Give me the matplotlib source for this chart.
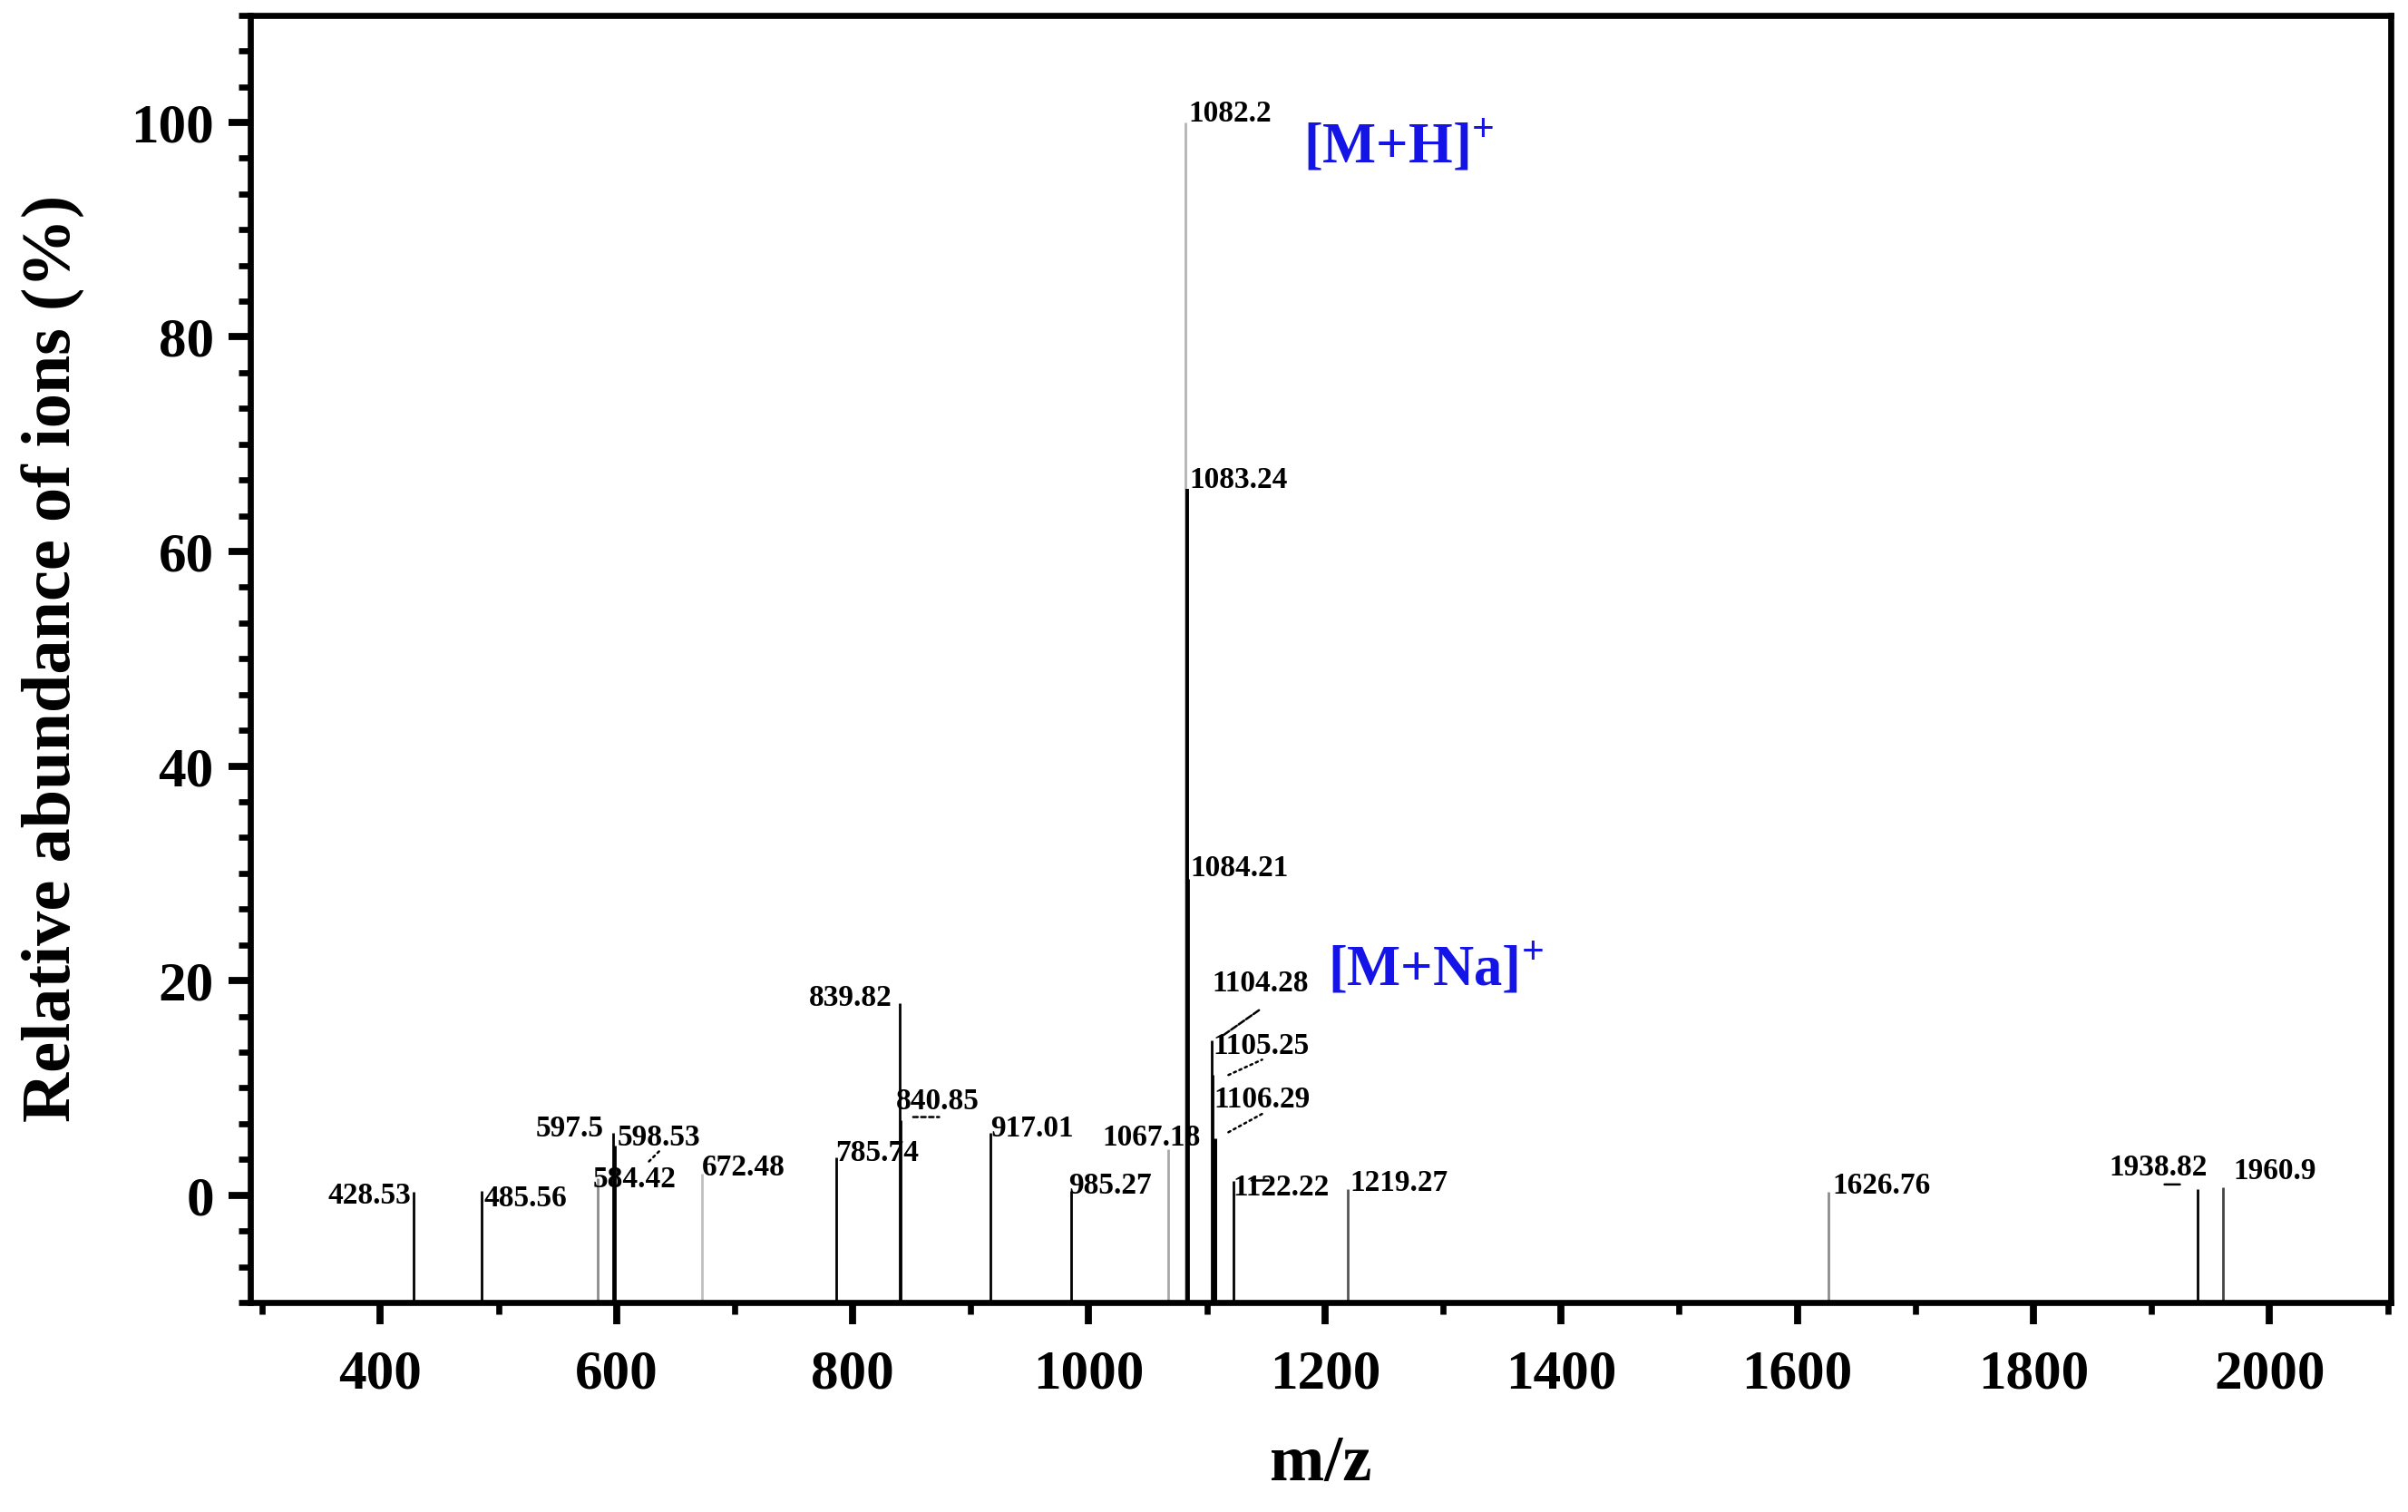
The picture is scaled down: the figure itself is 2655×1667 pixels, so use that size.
import numpy as np
import matplotlib
matplotlib.use("Agg")
import matplotlib.pyplot as plt
from matplotlib.ticker import MultipleLocator, AutoMinorLocator
from matplotlib.transforms import offset_copy

plt.rcParams['font.family'] = ['Liberation Serif', 'DejaVu Serif']
plt.rcParams['font.weight'] = 'bold'
plt.rcParams['mathtext.fontset'] = 'custom'
plt.rcParams['mathtext.rm'] = 'Liberation Serif:bold'
plt.rcParams['mathtext.bf'] = 'Liberation Serif:bold'

# peak list
mz = [428.53, 485.56, 584.42, 597.5, 598.53, 672.48, 785.74, 839.82, 840.85,
      917.01, 985.27, 1067.18, 1082.2, 1083.24, 1084.21, 1104.28, 1105.25,
      1106.29, 1122.22, 1219.27, 1626.76, 1938.82, 1960.9]
abundance = [0.3, 0.4, 1.6, 5.8, 4.6, 2.0, 3.5, 17.9, 7.0,
             5.8, 0.4, 4.3, 100.0, 65.8, 29.5, 14.4, 11.2,
             5.3, 1.3, 0.6, 0.3, 0.6, 0.75]
peak_labels = ["428.53", "485.56", "584.42", "597.5", "598.53", "672.48", "785.74",
               "839.82", "840.85", "917.01", "985.27", "1067.18", "1082.2", "1083.24",
               "1084.21", "1104.28", "1105.25", "1106.29", "1122.22", "1219.27",
               "1626.76", "1938.82", "1960.9"]
ion_labels = [r"[M+H]$^{+}$", r"[M+Na]$^{+}$"]
ion_mz = [1082.2, 1104.28]

x_ticks = [400, 600, 800, 1000, 1200, 1400, 1600, 1800, 2000]
y_ticks = [0, 20, 40, 60, 80, 100]
x_lim = (290, 2103)
y_lim = (-10, 110)

# drawing style per peak: colour, width
line_col = ['k', 'k', '#8c8c8c', 'k', 'k', '#c0c0c0', 'k', 'k', 'k',
            'k', 'k', '#a8a8a8', '#b4b4b4', 'k', 'k', 'k', 'k',
            'k', 'k', '#555555', '#8c8c8c', 'k', '#444444']
line_w = [1.0] * len(mz)
line_w[17] = 1.8
line_w[13] = 1.4

# label placement: (ha, dx, dy) in points from the peak top
lab_pos = [('right', -1, -4.5), ('left', 1, -6), ('left', -2, -3.7), ('right', -4, -1.5),
           ('left', 1, 0), ('left', 0, -0.6), ('left', 0, -1.5), ('right', -3, -1),
           ('left', -2, 4.3), ('left', 0, -1.5), ('left', -1, -1), ('left', -26, 1.2),
           ('left', 1, 0.5), ('left', 1, 0.5), ('left', 1, 1), ('left', 0, 19.4),
           ('left', 0, 8.5), ('left', 0, 12.2), ('left', 0, -5.5), ('left', 1, -0.7),
           ('left', 1.5, -0.6), ('right', 4, 5.4), ('left', 4, 3)]

# short leader marks: peak index -> (start, end) in points from the peak top, dash style
leaders = {4: ((17.6, -2.2), (13.3, -6.5), ':'),
           8: ((4.9, 1.2), (15.2, 1.2), (0, (2, 1.5))),
           15: ((4.7, 2.3), (18.7, 12.1), (0, (3, 1))),
           16: ((6.1, 0), (19.5, 6.1), ':'),
           17: ((5.6, 2.4), (19, 9.7), ':'),
           18: ((7.3, 0.3), (14, 0.3), '-'),
           21: ((-13, 1.7), (-6.9, 1.7), '-')}

fig = plt.figure(figsize=(13.275, 8.335), dpi=200)
ax = fig.add_axes([0.104, 0.1386, 0.889, 0.8514])
ax.set_xlim(*x_lim)
ax.set_ylim(*y_lim)

# sticks rise from the bottom of the frame, as in the instrument export
ax.vlines(mz, y_lim[0], abundance, colors=line_col, linewidths=line_w)

for i, (x, h, t) in enumerate(zip(mz, abundance, peak_labels)):
    ha, dx, dy = lab_pos[i]
    ax.annotate(t, xy=(x, h), xytext=(dx, dy), textcoords='offset points',
                ha=ha, va='baseline', fontsize=12, fontweight='bold')

for i, (p0, p1, ls) in leaders.items():
    t0 = offset_copy(ax.transData, fig=fig, x=p0[0], y=p0[1], units='points')
    t1 = offset_copy(ax.transData, fig=fig, x=p1[0], y=p1[1], units='points')
    ax.annotate('', xy=(mz[i], abundance[i]), xycoords=t1,
                xytext=(mz[i], abundance[i]), textcoords=t0,
                arrowprops=dict(arrowstyle='-', color='k', lw=0.9, linestyle=ls,
                                shrinkA=0, shrinkB=0))

ion_off = [(46.5, -15.8), (46, 22.4)]
for t, x, (dx, dy) in zip(ion_labels, ion_mz, ion_off):
    h = abundance[mz.index(x)]
    ax.annotate(t, xy=(x, h), xytext=(dx, dy), textcoords='offset points',
                ha='left', va='baseline', fontsize=22.5, fontweight='bold', color='#1414e6')

ax.set_xticks(x_ticks)
ax.set_yticks(y_ticks)
ax.xaxis.set_minor_locator(MultipleLocator(100))
ax.yaxis.set_minor_locator(AutoMinorLocator(6))

for s in ax.spines.values():
    s.set_linewidth(2.4)
ax.tick_params(which='major', direction='out', length=8.5, width=2.8, labelsize=22, pad=6)
ax.tick_params(which='minor', direction='out', length=4.8, width=2.4)
ax.tick_params(axis='x', which='major', pad=10)
ax.tick_params(top=False, right=False)
for lab in ax.get_xticklabels() + ax.get_yticklabels():
    lab.set_fontweight('bold')

ax.set_xlabel('m/z', fontsize=26, fontweight='bold', labelpad=14)
ax.set_ylabel('Relative abundance of ions (%)', fontsize=27.5, fontweight='bold', labelpad=18)

fig.savefig('out.png', dpi=200)
